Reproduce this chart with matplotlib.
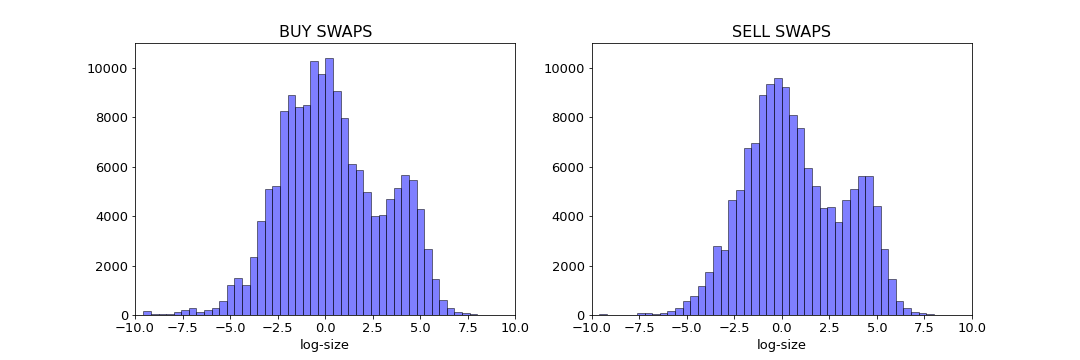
import numpy as np
import matplotlib
matplotlib.use("Agg")
import matplotlib.pyplot as plt

# bin counts (44 bins each)
buy_counts = [160, 40, 40, 40, 120, 200, 280, 120, 200, 280,
              570, 1215, 1500, 1215, 2350, 3800, 5100, 5240, 8270, 8900,
              8420, 8500, 10280, 9770, 10400, 9070, 7975, 6110, 5870, 4980,
              4010, 4050, 4700, 5140, 5670, 5465, 4290, 2670, 1460, 610,
              280, 120, 80, 40]
sell_counts = [40, 0, 0, 0, 0, 80, 80, 40, 80, 160,
               280, 570, 770, 1175, 1740, 2790, 2630, 4650, 5060, 6760,
               6960, 8900, 9350, 9600, 9230, 8100, 7570, 5950, 5220, 4330,
               4370, 3765, 4655, 5100, 5630, 5630, 4410, 2670, 1460, 570,
               280, 120, 80, 40]
buy_range = (-9.56, 7.99)
sell_range = (-9.61, 7.99)
titles = ["BUY SWAPS", "SELL SWAPS"]

plt.rcParams['font.size'] = 13

fig, axes = plt.subplots(1, 2, figsize=(15, 5), dpi=72)
fig.subplots_adjust(bottom=0.125)

for ax, counts, rng, title in zip(axes, [buy_counts, sell_counts],
                                  [buy_range, sell_range], titles):
    edges = np.linspace(rng[0], rng[1], len(counts) + 1)
    centers = (edges[:-1] + edges[1:]) / 2
    ax.hist(centers, bins=edges, weights=counts, color='blue',
            alpha=0.5, edgecolor='black')
    ax.set_xlim(-10, 10)
    ax.set_ylim(0, 11000)
    ax.set_xlabel('log-size')
    ax.set_title(title, fontsize=16)

fig.savefig('out.png')
